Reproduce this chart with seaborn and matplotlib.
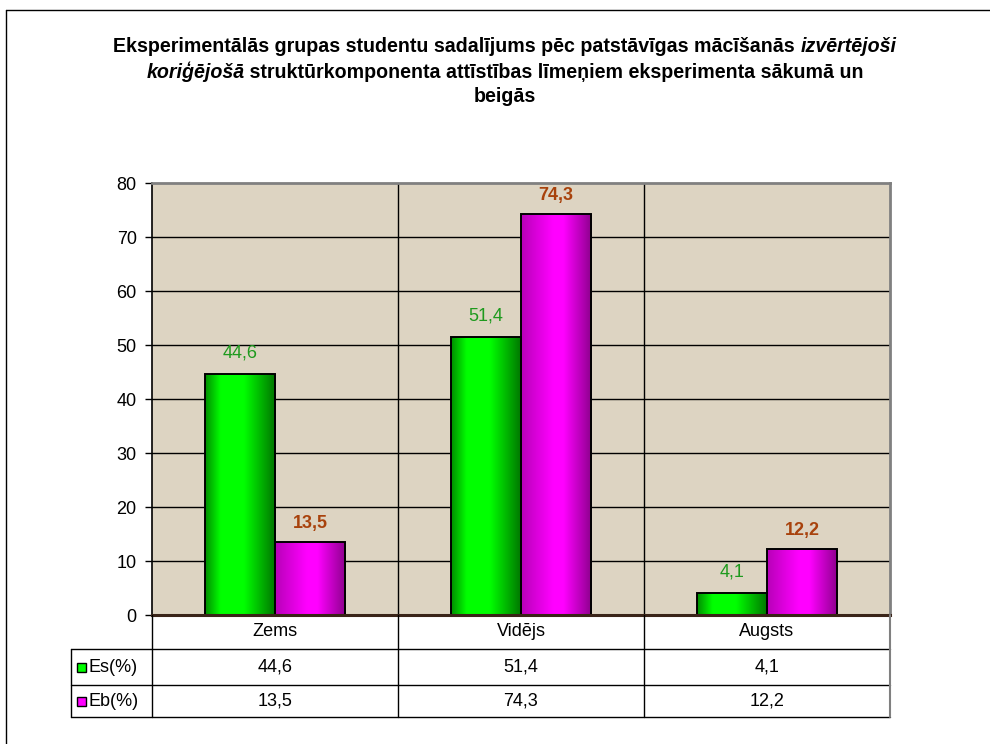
import numpy as np
import pandas as pd
import matplotlib
matplotlib.use("Agg")
import matplotlib.pyplot as plt
import matplotlib.transforms as mtransforms
from matplotlib.lines import Line2D
from matplotlib.colors import LinearSegmentedColormap
from matplotlib.patches import Rectangle
import seaborn as sns

# ---- data ----
categories = ["Zems", "Vidējs", "Augsts"]
series_names = ["Es(%)", "Eb(%)"]
es_values = [44.6, 51.4, 4.1]
eb_values = [13.5, 74.3, 12.2]
y_ticks = [0, 10, 20, 30, 40, 50, 60, 70, 80]

title_lines = [
    [("Eksperimentālās grupas studentu sadalījums pēc patstāvīgas mācīšanās ", "normal"),
     ("izvērtējoši", "italic")],
    [("koriģējošā", "italic"),
     (" struktūrkomponenta attīstības līmeņiem eksperimenta sākumā un", "normal")],
    [("beigās", "normal")],
]

sns.set_theme(style="white")
plt.rcParams["font.family"] = ["Liberation Sans", "DejaVu Sans"]

W, H = 990, 744
fig = plt.figure(figsize=(W / 100, H / 100), dpi=100)
fig.patch.set_facecolor("white")

FS = 13


def fx(px):
    return px / W


def fy(py):
    return 1 - py / H


ax = fig.add_axes([fx(152), fy(615), fx(890) - fx(152), fy(183) - fy(615)])
ax.set_facecolor("#DDD4C2")

df = pd.DataFrame({
    "category": categories * 2,
    "series": [series_names[0]] * 3 + [series_names[1]] * 3,
    "value": es_values + eb_values,
})

sns.barplot(data=df, x="category", y="value", hue="series", order=categories,
            hue_order=series_names, width=0.572, dodge=True, gap=0,
            palette=["#00FF00", "#FF00FF"], edgecolor="black", linewidth=1.4,
            saturation=1, legend=False, ax=ax, zorder=3)

ax.set_xlim(-0.5, 2.5)
ax.set_ylim(0, 80)

# gradient fills clipped to each bar
grad_maps = [
    LinearSegmentedColormap.from_list("g", [(0.0, (0.0, 0.55, 0.0)), (0.22, (0.0, 1.0, 0.0)),
                                            (0.55, (0.0, 1.0, 0.0)), (1.0, (0.0, 0.45, 0.0))]),
    LinearSegmentedColormap.from_list("m", [(0.0, (0.72, 0.0, 0.72)), (0.45, (1.0, 0.0, 1.0)),
                                            (0.6, (1.0, 0.0, 1.0)), (1.0, (0.55, 0.0, 0.55))]),
]
gradient = np.linspace(0, 1, 256).reshape(1, -1)
for cont, cmap in zip(ax.containers, grad_maps):
    for bar in cont:
        x0, w, h = bar.get_x(), bar.get_width(), bar.get_height()
        im = ax.imshow(gradient, cmap=cmap, extent=[x0, x0 + w, 0, h],
                       aspect="auto", origin="lower", zorder=2.9, interpolation="bilinear")
        im.set_clip_path(bar)
        bar.set_facecolor("none")

ax.set_xlim(-0.5, 2.5)
ax.set_ylim(0, 80)

# grid and category separators
for yv in y_ticks[1:-1]:
    ax.axhline(yv, color="black", linewidth=1.0, zorder=1)
for xv in [0.5, 1.5]:
    ax.axvline(xv, color="black", linewidth=1.0, zorder=1)

ax.set_yticks(y_ticks)
ax.set_yticklabels([str(v) for v in y_ticks], fontsize=FS, color="black")
ax.tick_params(axis="y", left=True, length=5, width=1, color="black", pad=6)
ax.tick_params(axis="x", bottom=False, labelbottom=False)
ax.set_xlabel("")
ax.set_ylabel("")

for side, col, lw in [("left", "black", 1.2), ("top", "#808080", 2.0),
                      ("right", "#808080", 2.0), ("bottom", "#3A2418", 2.2)]:
    ax.spines[side].set_visible(True)
    ax.spines[side].set_color(col)
    ax.spines[side].set_linewidth(lw)
ax.spines["bottom"].set_zorder(5)

# value labels above bars
fmt = lambda v: f"{v:.1f}".replace(".", ",")
for bar, v in zip(ax.containers[0], es_values):
    ax.annotate(fmt(v), (bar.get_x() + bar.get_width() / 2, v), xytext=(0, 9),
                textcoords="offset points", ha="center", va="bottom",
                fontsize=FS, color="#1E9A1E", zorder=6)
for bar, v in zip(ax.containers[1], eb_values):
    ax.annotate(fmt(v), (bar.get_x() + bar.get_width() / 2, v), xytext=(0, 7),
                textcoords="offset points", ha="center", va="bottom",
                fontsize=FS, fontweight="bold", color="#A8420C", zorder=6)

# ---- data table under the axes ----
blend = mtransforms.blended_transform_factory(ax.transData, fig.transFigure)
row_y = [615, 649, 685, 717]


def hline(py, x0px, x1px, color="black"):
    fig.add_artist(Line2D([fx(x0px), fx(x1px)], [fy(py), fy(py)], color=color,
                          linewidth=1.0, transform=fig.transFigure))


def vline_px(px, y0, y1, color="black", lw=1.0):
    fig.add_artist(Line2D([fx(px), fx(px)], [fy(y0), fy(y1)], color=color,
                          linewidth=lw, transform=fig.transFigure))


for py in row_y[1:]:
    hline(py, 71, 890)
vline_px(71, 649, 717)
vline_px(152, 615, 717)
vline_px(890, 615, 717, color="#808080", lw=1.5)
for xv in [0.5, 1.5]:
    fig.add_artist(Line2D([xv, xv], [fy(615), fy(717)], color="black",
                          linewidth=1.0, transform=blend))

for i, cat in enumerate(categories):
    fig.text(i, fy((row_y[0] + row_y[1]) / 2), cat, transform=blend,
             ha="center", va="center", fontsize=FS, color="black")
    fig.text(i, fy((row_y[1] + row_y[2]) / 2), fmt(es_values[i]), transform=blend,
             ha="center", va="center", fontsize=FS, color="black")
    fig.text(i, fy((row_y[2] + row_y[3]) / 2), fmt(eb_values[i]), transform=blend,
             ha="center", va="center", fontsize=FS, color="black")

for r, (name, col) in enumerate(zip(series_names, ["#00FF00", "#FF00FF"])):
    cy = (row_y[r + 1] + row_y[r + 2]) / 2
    fig.add_artist(Rectangle((fx(77), fy(cy + 4.5)), fx(9), 9 / H, facecolor=col,
                             edgecolor="black", linewidth=1.0, transform=fig.transFigure))
    fig.text(fx(89), fy(cy), name, ha="left", va="center", fontsize=FS, color="black")

# ---- title with mixed upright / italic runs ----
renderer = fig.canvas.get_renderer()
title_size = 14.1
line_y = [46, 72, 97]
center_x = 505
for segs, py in zip(title_lines, line_y):
    texts = []
    for s, style in segs:
        t = fig.text(0, fy(py), s, fontsize=title_size, fontweight="bold", fontstyle=style,
                     ha="left", va="center", color="black")
        texts.append(t)
    widths = [t.get_window_extent(renderer).width for t in texts]
    x = center_x - sum(widths) / 2
    for t, wdt in zip(texts, widths):
        t.set_x(fx(x))
        x += wdt

# outer frame
fig.add_artist(Line2D([fx(6), fx(6)], [fy(10), 0], color="black", linewidth=1.0,
                      transform=fig.transFigure))
fig.add_artist(Line2D([fx(6), 1], [fy(10), fy(10)], color="black", linewidth=1.0,
                      transform=fig.transFigure))

fig.savefig("out.png", dpi=100, facecolor="white")
